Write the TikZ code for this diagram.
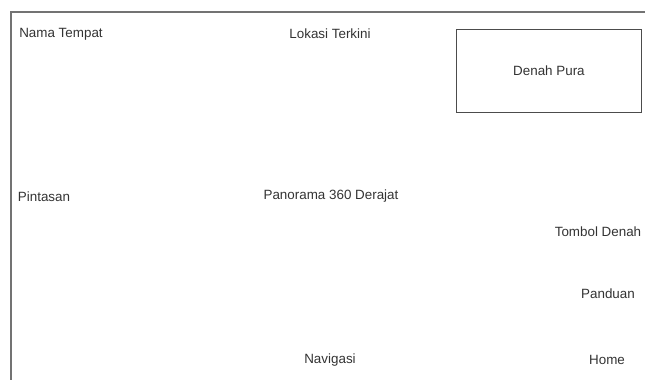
\documentclass[tikz,border=0pt]{standalone}
\usepackage{fontspec}
\setmainfont{Liberation Sans}
\begin{document}
\begin{tikzpicture}[x=1pt,y=-1pt,
  lbl/.style={font=\fontsize{13.4}{16}\selectfont, text=black!80, inner sep=0pt},
  frame/.style={draw=black!55, line width=2pt},
  boxed/.style={draw=black!70, line width=0.9pt}]
\useasboundingbox (0,0) rectangle (645,380);
\coordinate (tl) at (11,12);
\coordinate (tr) at (645,12);
\coordinate (bl) at (11,380);
\draw[frame] (tr) -- (tl) -- (bl);
\node[boxed, minimum width=185pt, minimum height=83pt, anchor=north west, inner sep=0pt] (denah) at (456,29) {};
\node[lbl] at (denah.center) (denahlbl) {Denah Pura};
\node[lbl] (nama) at (61,34) {Nama Tempat};
\node[lbl] (lokasi) at (330,34) {Lokasi Terkini};
\node[lbl] (pintasan) at (44,197) {Pintasan};
\node[lbl] (pano) at (331,196) {Panorama 360 Derajat};
\node[lbl] (tombol) at (598,232) {Tombol Denah};
\node[lbl] (panduan) at (608,294) {Panduan};
\node[lbl] (navigasi) at (330,360) {Navigasi};
\node[lbl] (home) at (607,360) {Home};
\end{tikzpicture}
\end{document}
